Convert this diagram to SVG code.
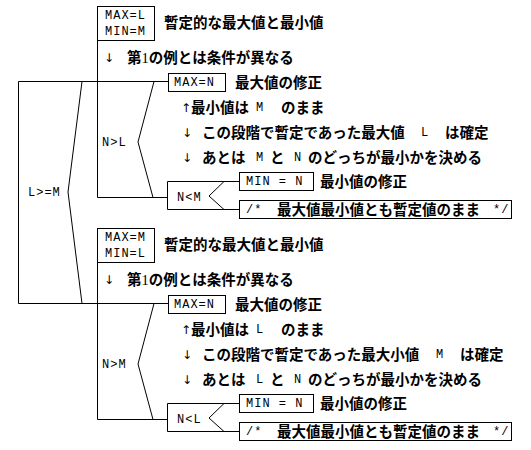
<svg xmlns="http://www.w3.org/2000/svg" width="531" height="450" viewBox="0 0 531 450">
<style>
.ln{fill:none;stroke:#000;stroke-width:1}
.bx{fill:#fff;stroke:#000;stroke-width:1}
.jp{font-family:"Noto Sans CJK JP","Noto Sans CJK SC",sans-serif;font-size:14.5px;font-weight:bold;fill:#000}
.mo{font-family:"Liberation Mono",monospace;font-size:12px;letter-spacing:1px;fill:#000}
.ar{font-family:"DejaVu Sans",sans-serif;font-size:12px;fill:#000}
</style>
<rect width="531" height="450" fill="#fff"/>
<g id="connectors">
<path class="ln" d="M97.5,81.5H18.5V303.5H97.5"/>
<path class="ln" d="M82,81.5L68,192L82,303.5"/>
<path class="ln" d="M97.5,6.5V197.5H167.5"/>
<path class="ln" d="M97.5,81.5H168.5"/>
<path class="ln" d="M154,81.5L138,142L153,197.5"/>
<path class="ln" d="M239.5,181.5H167.5V209.5H239.5"/>
<path class="ln" d="M224,181.5L209,196L224,209.5"/>
<path class="ln" d="M97.5,228.5V419.5H167.5"/>
<path class="ln" d="M97.5,303.5H168.5"/>
<path class="ln" d="M154,303.5L138,364L153,419.5"/>
<path class="ln" d="M239.5,403.5H167.5V431.5H239.5"/>
<path class="ln" d="M224,403.5L209,418L224,431.5"/>
</g>
<g id="cond-LgeM"><text class="mo" x="28" y="196">L&gt;=M</text></g>
<g id="init1">
<rect class="bx" x="97.5" y="6.5" width="57" height="34"/>
<text class="mo" x="105" y="19">MAX=L</text>
<text class="mo" x="105" y="35">MIN=M</text>
<text class="jp" x="164" y="27.5">暫定的な最大値と最小値</text>
</g>
<g id="note1"><text class="ar" x="104" y="62">↓</text><text class="jp" x="127" y="62.5">第<tspan font-family="Liberation Serif" font-weight="normal">1</tspan>の例とは条件が異なる</text></g>
<g id="cond-NgtL"><text class="mo" x="102" y="146">N&gt;L</text></g>
<g id="maxN1">
<rect class="bx" x="168.5" y="73.5" width="57" height="18"/>
<text class="mo" x="174" y="86">MAX=N</text>
<text class="jp" x="235" y="87.5">最大値の修正</text>
</g>
<g id="c1a"><text class="ar" x="181" y="112">↑</text><text class="jp" x="191" y="112.5">最小値は</text><text class="mo" x="256" y="111">M</text><text class="jp" x="281" y="112.5">のまま</text></g>
<g id="c1b"><text class="ar" x="182" y="137">↓</text><text class="jp" x="202" y="137.5">この段階で暫定であった最大値</text><text class="mo" x="421" y="136">L</text><text class="jp" x="445" y="137.5">は確定</text></g>
<g id="c1c"><text class="ar" x="182" y="162">↓</text><text class="jp" x="202" y="162.5">あとは</text><text class="mo" x="256" y="161">M</text><text class="jp" x="270" y="162.5">と</text><text class="mo" x="294" y="161">N</text><text class="jp" x="308" y="162.5">のどっちが最小かを決める</text></g>
<g id="cond-NltM"><text class="mo" x="177" y="201">N&lt;M</text></g>
<g id="minN1">
<rect class="bx" x="239.5" y="172.5" width="74" height="18"/>
<text class="mo" x="246" y="185" xml:space="preserve">MIN = N</text>
<text class="jp" x="320" y="186.5">最小値の修正</text>
</g>
<g id="keep1">
<rect class="bx" x="239.5" y="200.5" width="272" height="18"/>
<text class="mo" x="246" y="213">/*</text>
<text class="jp" x="277" y="214.5">最大値最小値とも暫定値のまま</text>
<text class="mo" x="493" y="213">*/</text>
</g>
<g id="init2">
<rect class="bx" x="97.5" y="228.5" width="57" height="34"/>
<text class="mo" x="105" y="241">MAX=M</text>
<text class="mo" x="105" y="257">MIN=L</text>
<text class="jp" x="164" y="249.5">暫定的な最大値と最小値</text>
</g>
<g id="note2"><text class="ar" x="104" y="284">↓</text><text class="jp" x="127" y="284.5">第<tspan font-family="Liberation Serif" font-weight="normal">1</tspan>の例とは条件が異なる</text></g>
<g id="cond-NgtM"><text class="mo" x="102" y="368">N&gt;M</text></g>
<g id="maxN2">
<rect class="bx" x="168.5" y="295.5" width="57" height="18"/>
<text class="mo" x="174" y="308">MAX=N</text>
<text class="jp" x="235" y="309.5">最大値の修正</text>
</g>
<g id="c2a"><text class="ar" x="181" y="334">↑</text><text class="jp" x="191" y="334.5">最小値は</text><text class="mo" x="256" y="333">L</text><text class="jp" x="281" y="334.5">のまま</text></g>
<g id="c2b"><text class="ar" x="182" y="359">↓</text><text class="jp" x="202" y="359.5">この段階で暫定であった最大小値</text><text class="mo" x="436" y="358">M</text><text class="jp" x="460" y="359.5">は確定</text></g>
<g id="c2c"><text class="ar" x="182" y="384">↓</text><text class="jp" x="202" y="384.5">あとは</text><text class="mo" x="256" y="383">L</text><text class="jp" x="270" y="384.5">と</text><text class="mo" x="294" y="383">N</text><text class="jp" x="308" y="384.5">のどっちが最小かを決める</text></g>
<g id="cond-NltL"><text class="mo" x="177" y="423">N&lt;L</text></g>
<g id="minN2">
<rect class="bx" x="239.5" y="394.5" width="74" height="18"/>
<text class="mo" x="246" y="407" xml:space="preserve">MIN = N</text>
<text class="jp" x="320" y="408.5">最小値の修正</text>
</g>
<g id="keep2">
<rect class="bx" x="239.5" y="422.5" width="272" height="18"/>
<text class="mo" x="246" y="435">/*</text>
<text class="jp" x="277" y="436.5">最大値最小値とも暫定値のまま</text>
<text class="mo" x="493" y="435">*/</text>
</g>
</svg>
